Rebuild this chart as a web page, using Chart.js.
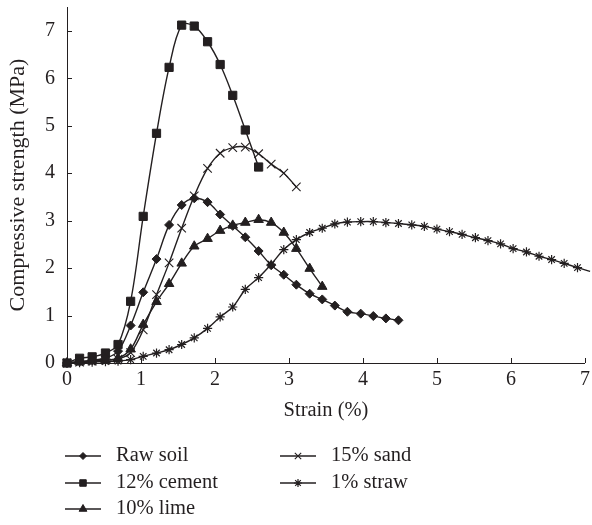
<!DOCTYPE html>
<html>
<head>
<meta charset="utf-8">
<title>Compressive strength vs strain</title>
<script src="https://cdn.jsdelivr.net/npm/chart.js@4.4.0/dist/chart.umd.min.js"></script>
<style>
  html, body { margin: 0; padding: 0; background: #fff; }
  #wrap { width: 592px; height: 525px; }
</style>
</head>
<body>
<div id="wrap"><canvas id="strengthChart" width="592" height="525"></canvas></div>
<script>
// strain (%) at each reading, shared by all specimens
const strain = [0, 0.17, 0.34, 0.52, 0.69, 0.86, 1.03, 1.21, 1.38, 1.55, 1.72, 1.9, 2.07,
  2.24, 2.41, 2.59, 2.76, 2.93, 3.1, 3.28, 3.45, 3.62, 3.79, 3.97, 4.14, 4.31, 4.48,
  4.66, 4.83, 5.0, 5.17, 5.34, 5.52, 5.69, 5.86, 6.03, 6.21, 6.38, 6.55, 6.72, 6.9, 7.07];

// compressive strength (MPa)
const rawSoil = [0, 0.03, 0.06, 0.1, 0.25, 0.79, 1.49, 2.19, 2.91, 3.33, 3.47, 3.39, 3.13,
  2.89, 2.65, 2.36, 2.06, 1.86, 1.65, 1.46, 1.34, 1.21, 1.08, 1.04, 0.99, 0.94, 0.9];
const cement = [0, 0.1, 0.13, 0.21, 0.39, 1.3, 3.09, 4.84, 6.23, 7.12, 7.1, 6.77, 6.29,
  5.64, 4.91, 4.13];
const lime = [0, 0.02, 0.04, 0.06, 0.1, 0.29, 0.81, 1.29, 1.67, 2.1, 2.46, 2.62, 2.79,
  2.9, 2.96, 3.02, 2.96, 2.75, 2.41, 1.99, 1.61];
const sand = [0, 0.02, 0.04, 0.06, 0.08, 0.22, 0.7, 1.44, 2.11, 2.84, 3.52, 4.1, 4.42,
  4.54, 4.55, 4.41, 4.19, 4.0, 3.71];
const straw = [0, 0.01, 0.02, 0.03, 0.04, 0.07, 0.14, 0.21, 0.28, 0.39, 0.53, 0.73, 0.97,
  1.18, 1.55, 1.8, 2.08, 2.39, 2.6, 2.75, 2.84, 2.93, 2.97, 2.98, 2.98, 2.96, 2.94,
  2.91, 2.88, 2.82, 2.77, 2.71, 2.64, 2.58, 2.51, 2.41, 2.34, 2.25, 2.18, 2.1, 2.01, 1.93];

const labels = ['Raw soil', '12% cement', '10% lime', '15% sand', '1% straw'];

const INK = '#231f20';
const FONT = "'Liberation Serif', 'DejaVu Serif', serif";

function toPoints(values) {
  return values.map((v, i) => ({ x: strain[i], y: v }));
}

// marker look per specimen (plot radius / legend radius)
const markers = [
  { style: 'rectRot', r: 4.5, lr: 3.5, bw: 1 },
  { style: 'rect', r: 5.8, lr: 4.6, bw: 1 },
  { style: 'triangle', r: 5.5, lr: 4.5, bw: 1 },
  { style: 'crossRot', r: 6, lr: 4.5, bw: 1.1 },
  { style: 'star', r: 4.6, lr: 4, bw: 1.2 }
];

const seriesValues = [rawSoil, cement, lime, sand, straw];

const datasets = seriesValues.map((vals, i) => ({
  label: labels[i],
  data: toPoints(vals),
  borderColor: INK,
  borderWidth: 1.4,
  backgroundColor: INK,
  pointStyle: markers[i].style,
  pointRadius: ctx => (ctx.raw && ctx.raw.x > 7 ? 0 : markers[i].r),
  pointBackgroundColor: INK,
  pointBorderColor: INK,
  pointBorderWidth: markers[i].bw,
  tension: 0.35,
  fill: false,
  clip: 8
}));

// tick marks pointing into the plot
const innerTicks = {
  id: 'innerTicks',
  beforeDatasetsDraw(chart) {
    const { ctx, chartArea: a, scales: { x, y } } = chart;
    ctx.save();
    ctx.strokeStyle = INK;
    ctx.lineWidth = 1;
    ctx.beginPath();
    x.ticks.forEach(t => {
      if (t.value === 0) return;
      const px = Math.round(x.getPixelForValue(t.value)) + 0.5;
      ctx.moveTo(px, a.bottom);
      ctx.lineTo(px, a.bottom - 5);
    });
    y.ticks.forEach(t => {
      if (t.value === 0) return;
      const py = Math.round(y.getPixelForValue(t.value)) + 0.5;
      ctx.moveTo(a.left, py);
      ctx.lineTo(a.left + 5, py);
    });
    ctx.stroke();
    ctx.restore();
  }
};

// two-column legend under the axis title
const columnLegend = {
  id: 'columnLegend',
  afterDraw(chart) {
    const { ctx } = chart;
    const slots = [[65, 456], [65, 483], [65, 509], [280, 456], [280, 483]];
    ctx.save();
    chart.data.datasets.forEach((ds, i) => {
      const [lx, ly] = slots[i];
      ctx.strokeStyle = INK;
      ctx.fillStyle = INK;
      ctx.lineWidth = 1.4;
      ctx.beginPath();
      ctx.moveTo(lx, ly);
      ctx.lineTo(lx + 36, ly);
      ctx.stroke();
      ctx.lineWidth = markers[i].bw;
      Chart.helpers.drawPoint(ctx, {
        pointStyle: markers[i].style,
        radius: markers[i].lr,
        rotation: 0,
        borderWidth: markers[i].bw
      }, lx + 18, ly);
      ctx.font = '20.5px ' + FONT;
      ctx.textAlign = 'left';
      ctx.textBaseline = 'middle';
      ctx.fillText(ds.label, lx + 51, ly);
    });
    ctx.restore();
  }
};

new Chart(document.getElementById('strengthChart'), {
  type: 'line',
  data: { datasets },
  options: {
    responsive: false,
    animation: false,
    layout: { padding: { left: 0, right: 5, top: 0, bottom: 102 } },
    plugins: {
      legend: { display: false },
      tooltip: { enabled: false }
    },
    scales: {
      x: {
        type: 'linear',
        min: 0,
        max: 7,
        afterFit(s) { s.height = 60; s.paddingLeft = 0; s.paddingRight = 0; },
        grid: { display: false, drawTicks: false },
        border: { display: true, color: INK, width: 1 },
        ticks: {
          stepSize: 1,
          padding: 5,
          includeBounds: false,
          color: INK,
          font: { family: FONT, size: 20 }
        },
        title: {
          display: true,
          text: 'Strain (%)',
          color: INK,
          padding: 0,
          font: { family: FONT, size: 20.5 }
        }
      },
      y: {
        type: 'linear',
        min: 0,
        max: 7.5,
        afterFit(s) { s.width = 67; s.paddingTop = 0; s.paddingBottom = 0; },
        grid: { display: false, drawTicks: false },
        border: { display: true, color: INK, width: 1 },
        ticks: {
          stepSize: 1,
          padding: 12,
          includeBounds: false,
          color: INK,
          font: { family: FONT, size: 20 }
        },
        title: {
          display: true,
          text: 'Compressive strength (MPa)',
          color: INK,
          padding: { top: 5, bottom: 0 },
          font: { family: FONT, size: 22 }
        }
      }
    }
  },
  plugins: [innerTicks, columnLegend]
});
</script>
</body>
</html>
